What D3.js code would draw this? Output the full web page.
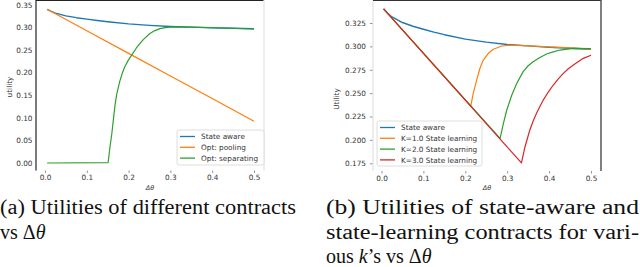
<!DOCTYPE html>
<html>
<head>
<meta charset="utf-8">
<script src="https://d3js.org/d3.v7.min.js"></script>
<style>
  body { margin: 0; background: #fff; }
  text { font-family: "DejaVu Sans", sans-serif; }
  .tick text { fill: #333; font-size: 7.3px; }
  text.cap { font-family: "Liberation Serif", "Times New Roman", serif; font-size: 20px; fill: #111; }
  .leg text { font-size: 7.3px; fill: #333; }
</style>
</head>
<body>
<script>
// ---- data ----
var awareX = [0.005, 0.015, 0.025, 0.05, 0.075, 0.1, 0.125, 0.15, 0.2, 0.25, 0.3, 0.35, 0.4, 0.45, 0.5];
var awareY = [0.340, 0.3355, 0.3315, 0.3255, 0.3215, 0.3183, 0.3152, 0.3125, 0.3078, 0.3045, 0.302, 0.3005, 0.299, 0.298, 0.297];

var poolX = [0.005, 0.1, 0.2, 0.3, 0.4, 0.5];
var poolY = [0.34, 0.2925, 0.2425, 0.1925, 0.1425, 0.0925];

var sepX = [0.005, 0.151, 0.155, 0.16, 0.1675, 0.1715, 0.179, 0.185, 0.191, 0.199, 0.207, 0.219, 0.235, 0.251, 0.263, 0.275, 0.287, 0.299, 0.323, 0.4, 0.5];
var sepY = [0, 0.001, 0.032, 0.066, 0.128, 0.152, 0.181, 0.199, 0.213, 0.227, 0.238, 0.255, 0.273, 0.2865, 0.293, 0.2972, 0.2995, 0.3008, 0.301, 0.2995, 0.2965];

var k1X = [0.005, 0.213, 0.219, 0.227, 0.235, 0.243, 0.255, 0.267, 0.287, 0.307, 0.35, 0.4, 0.45, 0.5];
var k1Y = [0.34, 0.2362, 0.2498, 0.264, 0.2766, 0.2854, 0.2926, 0.2969, 0.3004, 0.3013, 0.3005, 0.2995, 0.2985, 0.297];

var k2X = [0.005, 0.283, 0.291, 0.299, 0.311, 0.323, 0.338, 0.35, 0.362, 0.378, 0.394, 0.41, 0.426, 0.458, 0.5];
var k2Y = [0.34, 0.2017, 0.2177, 0.232, 0.248, 0.2605, 0.273, 0.2793, 0.2836, 0.2882, 0.2918, 0.2942, 0.2961, 0.2979, 0.2975];

var k3X = [0.005, 0.334, 0.3425, 0.354, 0.362, 0.370, 0.378, 0.386, 0.398, 0.410, 0.422, 0.434, 0.446, 0.458, 0.47, 0.4816, 0.5];
var k3Y = [0.34, 0.1755, 0.1927, 0.2106, 0.2202, 0.2284, 0.2358, 0.2426, 0.2512, 0.2587, 0.2653, 0.2712, 0.2761, 0.2801, 0.2838, 0.2872, 0.2905];

var xTicks = [0, 0.1, 0.2, 0.3, 0.4, 0.5];
var leftYTicks = [0, 0.05, 0.1, 0.15, 0.2, 0.25, 0.3, 0.35];
var rightYTicks = [0.175, 0.2, 0.225, 0.25, 0.275, 0.3, 0.325];

var leftNames = ["State aware", "Opt: pooling", "Opt: separating"];
var rightNames = ["State aware", "K=1.0 State learning", "K=2.0 State learning", "K=3.0 State learning"];
var colors = ["#1f77b4", "#ff7f0e", "#2ca02c", "#d62728"];

var width = 640, height = 267;

var svg = d3.select("body").append("svg")
    .attr("width", width)
    .attr("height", height);

function zip(xs, ys) { return xs.map(function(x, i) { return [x, ys[i]]; }); }

function panel(opt) {
  var g = svg.append("g");
  var x = d3.scaleLinear().domain([0, 0.5]).range(opt.xr);
  var y = d3.scaleLinear().domain(opt.yd).range(opt.yr);
  var f = opt.frame; // [x0, y0, x1, y1]

  g.append("clipPath").attr("id", opt.id)
    .append("rect").attr("x", f[0]).attr("y", f[1]).attr("width", f[2] - f[0]).attr("height", f[3] - f[1]);

  // axes
  var xa = g.append("g").attr("transform", "translate(0," + f[3] + ")")
    .call(d3.axisBottom(x).tickValues(xTicks).tickFormat(d3.format(".1f")).tickSize(2.5).tickPadding(2));
  var ya = g.append("g").attr("transform", "translate(" + f[0] + ",0)")
    .call(d3.axisLeft(y).tickValues(opt.yTicks).tickFormat(d3.format(opt.yFmt)).tickSize(opt.yTick).tickPadding(opt.yPad));
  [xa, ya].forEach(function(a) {
    a.select(".domain").remove();
    a.selectAll(".tick line").attr("stroke", "#777").attr("stroke-width", 0.8);
  });

  // spines
  opt.spines.forEach(function(s) {
    g.append("line").attr("x1", s[0]).attr("y1", s[1]).attr("x2", s[2]).attr("y2", s[3])
      .attr("stroke", s[4]).attr("stroke-width", s[5]);
  });

  // lines
  var line = d3.line()
    .x(function(d) { return x(d[0]); }).y(function(d) { return y(d[1]); });
  var lg = g.append("g").attr("clip-path", "url(#" + opt.id + ")");
  opt.series.forEach(function(s, i) {
    lg.append("path").datum(s).attr("d", line)
      .attr("fill", "none").attr("stroke", colors[i]).attr("stroke-width", i == 0 ? 1.4 : 1.2)
      .attr("stroke-linejoin", "round");
  });

  // labels
  g.append("text").attr("x", (f[0] + f[2]) / 2).attr("y", 190)
    .attr("text-anchor", "middle").style("font-size", "6.5px").style("font-style", "italic").attr("fill", "#333")
    .text("Δθ");
  g.append("text").attr("transform", "translate(" + opt.ylx + "," + opt.yly + ") rotate(-90)")
    .attr("text-anchor", "middle").style("font-size", "7.3px").attr("fill", "#333")
    .text(opt.ylabel);

  // legend
  var L = opt.leg;
  var leg = g.append("g").attr("class", "leg");
  leg.append("rect").attr("x", L[0]).attr("y", L[1]).attr("width", L[2]).attr("height", L[3])
    .attr("rx", 2).attr("fill", "rgba(255,255,255,0.85)").attr("stroke", "#d6d6d6").attr("stroke-width", 0.8);
  opt.names.forEach(function(n, i) {
    var yy = L[1] + 6.5 + i * 10.8;
    leg.append("line").attr("x1", L[0] + 3).attr("x2", L[0] + 18).attr("y1", yy).attr("y2", yy)
      .attr("stroke", colors[i]).attr("stroke-width", 1.3);
    leg.append("text").attr("x", L[0] + 24).attr("y", yy + 2.6).text(n);
  });
}

panel({
  id: "clipA",
  xr: [45, 254], yd: [0, 0.35], yr: [163, 4.8],
  frame: [36, 0, 264, 170.5],
  yTicks: leftYTicks, yFmt: ".2f", yTick: 0, yPad: 3.5,
  spines: [[36, 0, 36, 170.5, "#222", 1.2], [36, 0.5, 264, 0.5, "#222", 1.2], [264, 0, 264, 170.5, "#e3e3e3", 1.2]],
  series: [zip(awareX, awareY), zip(poolX, poolY), zip(sepX, sepY)],
  names: leftNames,
  ylx: 12, yly: 87, ylabel: "utility",
  leg: [177, 130, 87, 35]
});

panel({
  id: "clipB",
  xr: [381.5, 591], yd: [0.175, 0.325], yr: [163.3, 23],
  frame: [373, 0, 601, 171],
  yTicks: rightYTicks, yFmt: ".3f", yTick: 3, yPad: 4,
  spines: [[373, 0, 373, 171, "#e3e3e3", 1.2], [373, 0.5, 601, 0.5, "#333", 1.2], [601, 0, 601, 171, "#555", 1.5]],
  series: [zip(awareX, awareY), zip(k1X, k1Y), zip(k2X, k2Y), zip(k3X, k3Y)],
  names: rightNames,
  ylx: 339, yly: 99, ylabel: "Utility",
  leg: [377, 121, 105, 45]
});

// captions
svg.append("text").attr("class", "cap").attr("x", 0).attr("y", 214)
  .attr("textLength", 296).attr("lengthAdjust", "spacingAndGlyphs")
  .text("(a) Utilities of different contracts");
var a2 = svg.append("text").attr("class", "cap").attr("x", 0).attr("y", 238.5);
a2.append("tspan").text("vs Δ");
a2.append("tspan").style("font-style", "italic").text("θ");

svg.append("text").attr("class", "cap").attr("x", 326).attr("y", 214)
  .attr("textLength", 313).attr("lengthAdjust", "spacingAndGlyphs")
  .text("(b) Utilities of state-aware and");
svg.append("text").attr("class", "cap").attr("x", 326).attr("y", 238.5)
  .attr("textLength", 313).attr("lengthAdjust", "spacingAndGlyphs")
  .text("state-learning contracts for vari-");
var b3 = svg.append("text").attr("class", "cap").attr("x", 326).attr("y", 263);
b3.append("tspan").text("ous ");
b3.append("tspan").style("font-style", "italic").text("k");
b3.append("tspan").text("’s vs Δ");
b3.append("tspan").style("font-style", "italic").text("θ");
</script>
</body>
</html>
